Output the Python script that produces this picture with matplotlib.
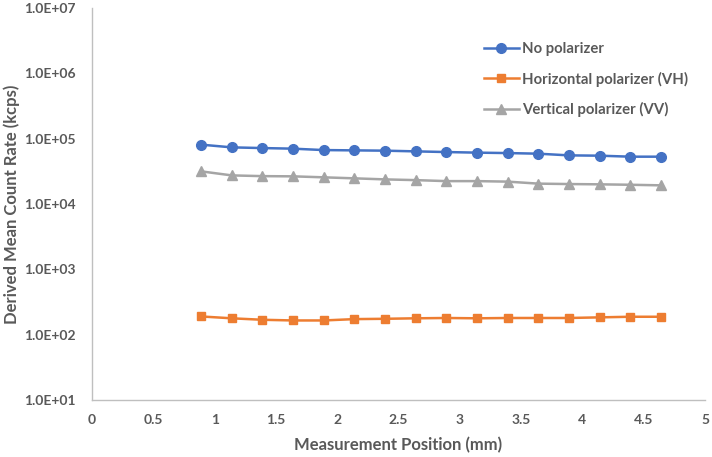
import matplotlib
matplotlib.use('Agg')
import matplotlib.pyplot as plt
from matplotlib.ticker import FuncFormatter, FixedLocator, NullLocator

# measurement positions (mm)
position = [0.89, 1.14, 1.39, 1.64, 1.89, 2.14, 2.39, 2.64,
            2.89, 3.14, 3.39, 3.64, 3.89, 4.14, 4.39, 4.64]

# derived mean count rate (kcps)
no_pol = [81000, 73600, 71800, 70300, 66900, 66200, 65500, 63900,
          62400, 61100, 60200, 58900, 55500, 54900, 53000, 53000]
vh_pol = [190, 178, 169, 165, 165, 173, 175, 178,
          180, 178, 180, 180, 180, 184, 188, 188]
vv_pol = [31600, 27400, 26700, 26500, 25600, 24700, 23800, 23200,
          22400, 22400, 22000, 20500, 20200, 20000, 19700, 19300]

labels = ['No polarizer', 'Horizontal polarizer (VH)', 'Vertical polarizer (VV)']
xticks = [0, 0.5, 1, 1.5, 2, 2.5, 3, 3.5, 4, 4.5, 5]
yticks = [1e1, 1e2, 1e3, 1e4, 1e5, 1e6, 1e7]

plt.rcParams['font.family'] = ['Lato', 'DejaVu Sans']
plt.rcParams['font.weight'] = 'bold'
txt = '#595959'

fig = plt.figure(figsize=(7.12, 4.57), dpi=100)
ax = fig.add_axes([92/712, 1-400/457, 613/712, 392/457])

ax.plot(position, no_pol, color='#4472C4', marker='o', markersize=7, lw=1.8, label=labels[0])
ax.plot(position, vh_pol, color='#ED7D31', marker='s', markersize=6, lw=1.8, label=labels[1])
ax.plot(position, vv_pol, color='#A5A5A5', marker='^', markersize=7, lw=1.8, label=labels[2])

ax.set_yscale('log')
ax.set_ylim(1e1, 1e7)
ax.set_xlim(0, 5)
ax.yaxis.set_major_locator(FixedLocator(yticks))
ax.yaxis.set_minor_locator(NullLocator())
ax.xaxis.set_major_locator(FixedLocator(xticks))
ax.yaxis.set_major_formatter(FuncFormatter(lambda v, p: f'{v:.1E}'))
ax.xaxis.set_major_formatter(FuncFormatter(lambda v, p: f'{v:g}'))

for s in ['top', 'right']:
    ax.spines[s].set_visible(False)
for s in ['left', 'bottom']:
    ax.spines[s].set_color('#BFBFBF')
    ax.spines[s].set_linewidth(1.0)

ax.tick_params(axis='y', length=0, pad=11.5, labelsize=10, labelcolor=txt)
ax.tick_params(axis='x', length=0, pad=10, labelsize=10, labelcolor=txt)

ax.set_ylabel('Derived Mean Count Rate (kcps)', fontsize=12, color=txt, fontweight='bold')
ax.set_xlabel('Measurement Position (mm)', fontsize=12, color=txt, fontweight='bold')
ax.yaxis.set_label_coords(-0.117, 0.50)
ax.xaxis.set_label_coords(0.499, -0.095)

leg = fig.legend(loc='upper left', bbox_to_anchor=(484/712, 1-42/457), frameon=False,
                 fontsize=10.7, handlelength=2.35, handletextpad=0.2, labelspacing=1.05,
                 borderpad=0, borderaxespad=0)
for t in leg.get_texts():
    t.set_color(txt)

fig.savefig('out.png', dpi=100)
